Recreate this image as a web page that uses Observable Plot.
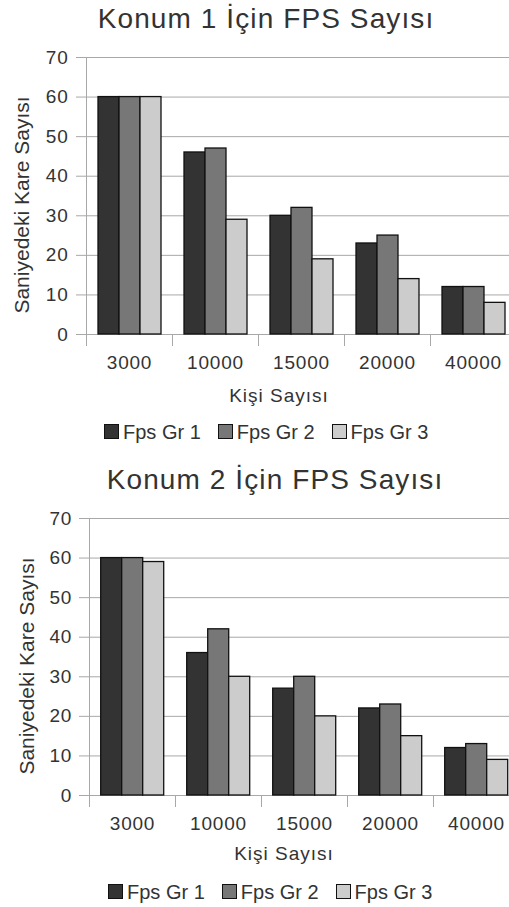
<!DOCTYPE html>
<html><head><meta charset="utf-8">
<script src="https://cdn.jsdelivr.net/npm/d3@7"></script>
<script src="https://cdn.jsdelivr.net/npm/@observablehq/plot@0.6"></script>
<style>
html,body{margin:0;padding:0;background:#fff;overflow:hidden;}
#root{position:relative;width:509px;height:907px;overflow:hidden;font-family:"Liberation Sans",Arial,sans-serif;color:#333;}
.block{position:absolute;left:0;width:509px;height:461px;}
.svgwrap{position:absolute;left:0;top:0;}
.title{position:absolute;font-size:28px;line-height:28px;letter-spacing:1.1px;white-space:nowrap;transform:translateX(-50%);color:#333;}
.xlabel{position:absolute;font-size:19px;line-height:19px;letter-spacing:1px;white-space:nowrap;transform:translateX(-50%);color:#333;}
.legend{position:absolute;font-size:20px;line-height:20px;white-space:nowrap;color:#333;}
.item{display:inline-block;margin-right:17px;}
.sw{display:inline-block;width:15px;height:15px;box-sizing:border-box;border:1px solid #111;margin-right:4px;vertical-align:baseline;}
svg g[aria-label="ylabel"] text{letter-spacing:0.95px;}
svg g[aria-label="fx-axis tick label"] text, svg g[aria-label="y-axis tick label"] text{letter-spacing:0.8px;}
</style>
</head><body><div id="root"></div>
<script>
const categories = ["3000", "10000", "15000", "20000", "40000"];
const series = ["Fps Gr 1", "Fps Gr 2", "Fps Gr 3"];
const konum1Gr1 = [60, 46, 30, 23, 12];
const konum1Gr2 = [60, 47, 32, 25, 12];
const konum1Gr3 = [60, 29, 19, 14, 8];
const konum2Gr1 = [60, 36, 27, 22, 12];
const konum2Gr2 = [60, 42, 30, 23, 13];
const konum2Gr3 = [59, 30, 20, 15, 9];
const yTicks = [0, 10, 20, 30, 40, 50, 60, 70];
const titles = ["Konum 1 İçin FPS Sayısı", "Konum 2 İçin FPS Sayısı"];
const xLabel = "Kişi Sayısı";
const yLabel = "Saniyedeki Kare Sayısı";
const colors = ["#333333", "#777777", "#cccccc"];

const layouts = [
  {top: 0, left: 85, right: 516, tickPad: 8, titleX: 266, titleTop: 4.7, xlabX: 279, xlabTop: 385.8, legendLeft: 104, legendTop: 422.4, labelOffset: 72},
  {top: 461, left: 88.3, right: 520, tickPad: 7.3, titleX: 275, titleTop: 5.4, xlabX: 284, xlabTop: 383.2, legendLeft: 108, legendTop: 421.4, labelOffset: 70}
];
const valueSets = [[konum1Gr1, konum1Gr2, konum1Gr3], [konum2Gr1, konum2Gr2, konum2Gr3]];

const root = document.getElementById("root");

function makeChart(cfg, vals, title) {
  const data = [];
  categories.forEach((c, i) => series.forEach((s, j) => data.push({cat: c, series: s, value: vals[j][i]})));
  const plotH = 277;
  const svg = Plot.plot({
    width: 509, height: 57 + plotH + 45,
    marginTop: 57, marginBottom: 45, marginLeft: cfg.left, marginRight: 509 - cfg.right,
    fx: {domain: categories, padding: 0, label: null},
    x: {domain: series, paddingInner: 0, paddingOuter: 0.46, axis: null},
    y: {domain: [0, 70], nice: false},
    color: {domain: series, range: colors},
    style: {fontFamily: "'Liberation Sans', Arial, sans-serif", color: "#333", background: "#fff"},
    marks: [
      Plot.gridY(yTicks, {stroke: "#a8a8a8", strokeOpacity: 1}),
      Plot.axisY(yTicks, {tickSize: 10, tickPadding: cfg.tickPad, fontSize: 19, stroke: "#a8a8a8", fill: "#333", label: null}),
      Plot.text([yLabel], {frameAnchor: "left", textAnchor: "middle", rotate: -90, dx: -cfg.labelOffset, dy: 9, lineAnchor: "top",
        facetAnchor: "left", fontSize: 21, fill: "#333", ariaLabel: "ylabel"}),
      Plot.frame({anchor: "left", stroke: "#a8a8a8", insetTop: plotH, insetBottom: -11}),
      Plot.frame({anchor: "left", stroke: "#a8a8a8", insetBottom: -11, facetAnchor: "left"}),
      Plot.barY(data, {fx: "cat", x: "series", y: "value", fill: "series", stroke: "#111", strokeWidth: 1.3}),
      Plot.axisFx({anchor: "bottom", tickSize: 0, tickPadding: 21, fontSize: 19, label: null, fill: "#333"})
    ]
  });
  const block = document.createElement("div");
  block.className = "block";
  block.style.top = cfg.top + "px";
  const wrap = document.createElement("div");
  wrap.className = "svgwrap";
  wrap.appendChild(svg);
  block.appendChild(wrap);

  const t = document.createElement("div");
  t.className = "title";
  t.textContent = title;
  t.style.left = cfg.titleX + "px";
  t.style.top = cfg.titleTop + "px";
  block.appendChild(t);

  const xl = document.createElement("div");
  xl.className = "xlabel";
  xl.textContent = xLabel;
  xl.style.left = cfg.xlabX + "px";
  xl.style.top = cfg.xlabTop + "px";
  block.appendChild(xl);

  const lg = document.createElement("div");
  lg.className = "legend";
  lg.style.left = cfg.legendLeft + "px";
  lg.style.top = cfg.legendTop + "px";
  series.forEach((s, j) => {
    const it = document.createElement("span");
    it.className = "item";
    const sw = document.createElement("span");
    sw.className = "sw";
    sw.style.background = colors[j];
    it.appendChild(sw);
    it.appendChild(document.createTextNode(s));
    lg.appendChild(it);
  });
  block.appendChild(lg);
  root.appendChild(block);
}

layouts.forEach((cfg, k) => makeChart(cfg, valueSets[k], titles[k]));
</script>
</body></html>
